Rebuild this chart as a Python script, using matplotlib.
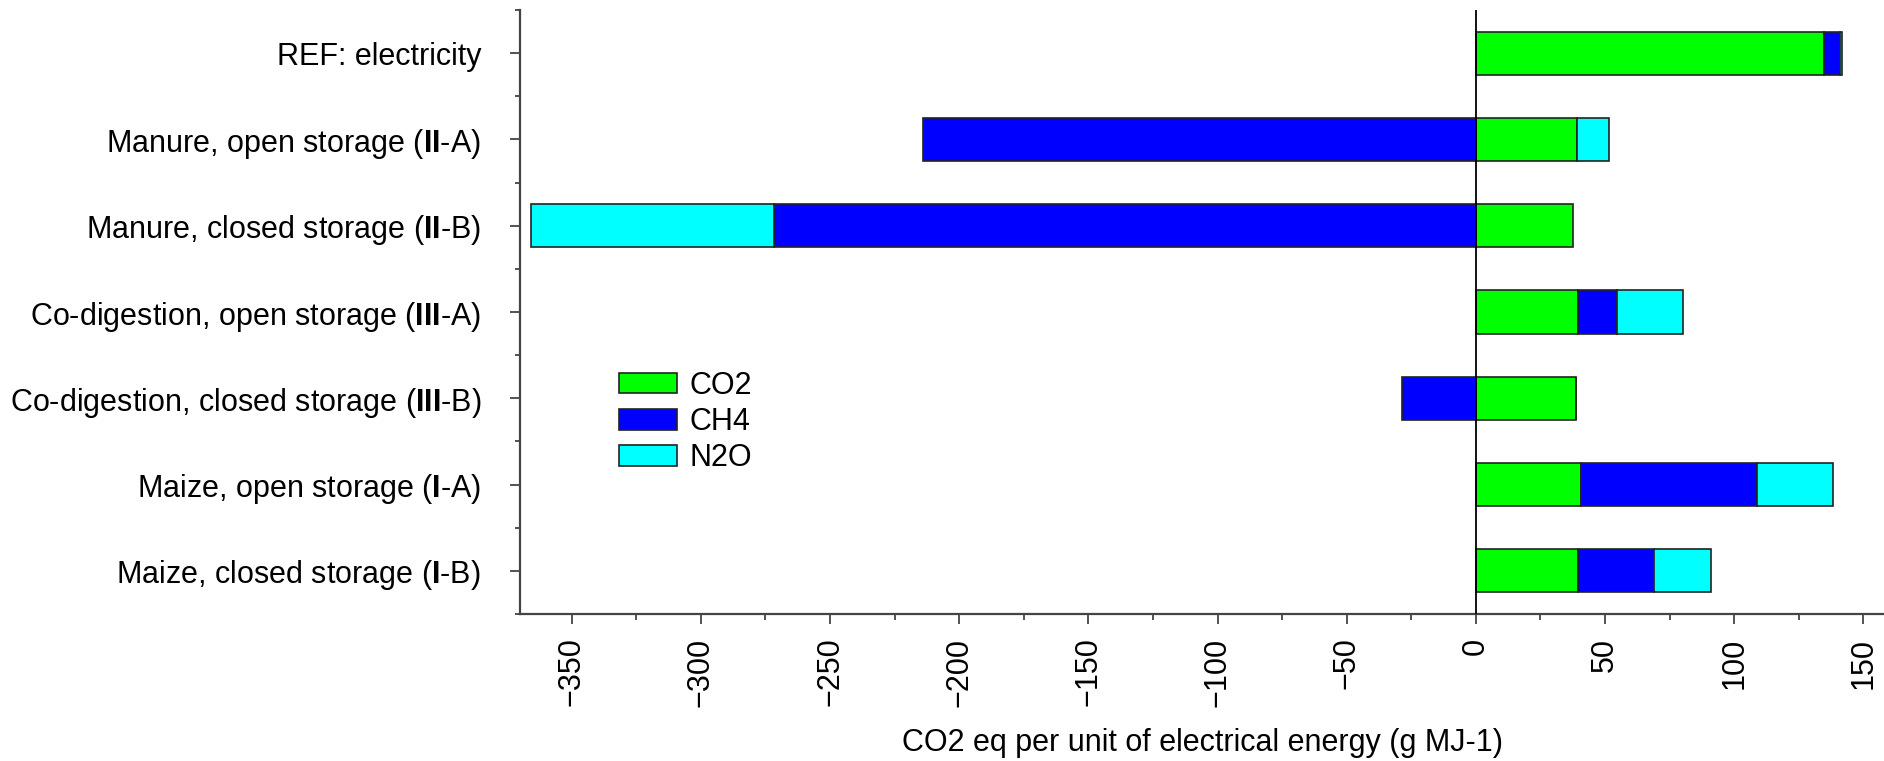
import numpy as np
import matplotlib
matplotlib.use("Agg")
import matplotlib.pyplot as plt
from matplotlib.ticker import MultipleLocator, FixedLocator

plt.rcParams['font.family'] = ['Liberation Sans', 'DejaVu Sans']
plt.rcParams['mathtext.fontset'] = 'custom'
plt.rcParams['mathtext.rm'] = 'Liberation Sans'
plt.rcParams['mathtext.bf'] = 'Liberation Sans:bold'

categories = [
    "REF: electricity",
    r"Manure, open storage ($\mathbf{II}$-A)",
    r"Manure, closed storage ($\mathbf{II}$-B)",
    r"Co-digestion, open storage ($\mathbf{III}$-A)",
    r"Co-digestion, closed storage ($\mathbf{III}$-B)",
    r"Maize, open storage ($\mathbf{I}$-A)",
    r"Maize, closed storage ($\mathbf{I}$-B)",
]
series_names = ["CO2", "CH4", "N2O"]
co2 = [134.7, 39.3, 37.6, 39.7, 38.9, 40.9, 39.7]
ch4 = [6.2, -214.0, -271.5, 15.1, -28.4, 67.8, 29.3]
n2o = [0.9, 12.4, -94.3, 25.4, 0.0, 29.7, 22.0]
colors = ["#00FF00", "#0000FF", "#00FFFF"]
xticks = [-350, -300, -250, -200, -150, -100, -50, 0, 50, 100, 150]
xlabel = "CO2 eq per unit of electrical energy (g MJ-1)"

FS = 22
fig = plt.figure(figsize=(18.84, 7.61), dpi=100)
ax = fig.add_axes([520/1884, 1-614/761, 1-520/1884, (614-10)/761])

y = np.arange(len(categories))
pos_base = np.zeros(len(categories))
neg_base = np.zeros(len(categories))
handles = []
for name, vals, c in zip(series_names, [co2, ch4, n2o], colors):
    v = np.array(vals, dtype=float)
    left = np.where(v >= 0, pos_base, neg_base)
    b = ax.barh(y, v, left=left, height=0.5, color=c, edgecolor="#222222",
                linewidth=1.2, label=name, zorder=2)
    handles.append(b)
    pos_base = pos_base + np.where(v >= 0, v, 0)
    neg_base = neg_base + np.where(v < 0, v, 0)

ax.axvline(0, color="black", linewidth=1.3, zorder=3)

ax.set_xlim(-370, 158)
ax.set_ylim(len(categories) - 0.5, -0.5)

ax.set_yticks(y)
ax.set_yticklabels(categories, fontsize=FS)
ax.yaxis.set_minor_locator(FixedLocator(np.arange(-0.5, len(categories), 1.0)))
ax.set_xticks(xticks)
ax.set_xticklabels([str(t).replace("-", "\u2212") for t in xticks],
                   rotation=90, fontsize=FS)
ax.xaxis.set_minor_locator(MultipleLocator(25))

for s in ["top", "right"]:
    ax.spines[s].set_visible(False)
for s in ["left", "bottom"]:
    ax.spines[s].set_color("#444444")
    ax.spines[s].set_linewidth(1.6)

ax.tick_params(axis="y", which="major", length=7, width=1.3, color="#444444", pad=21)
ax.tick_params(axis="y", which="minor", length=3.5, width=1.3, color="#444444")
ax.tick_params(axis="x", which="major", length=7, width=1.3, color="#444444", pad=10)
ax.tick_params(axis="x", which="minor", length=4, width=1.3, color="#444444")

ax.set_xlabel(xlabel, fontsize=FS, va="center")
ax.xaxis.set_label_coords(0.5, (614 - 743) / 604)

leg = fig.legend(handles=handles, labels=series_names, loc="upper left",
                 bbox_to_anchor=(619/1884, 1-371/761), frameon=False,
                 fontsize=FS, handlelength=1.9, handleheight=0.65,
                 handletextpad=0.4, labelspacing=0.2, borderpad=0,
                 borderaxespad=0)

fig.savefig("out.png", dpi=100)
